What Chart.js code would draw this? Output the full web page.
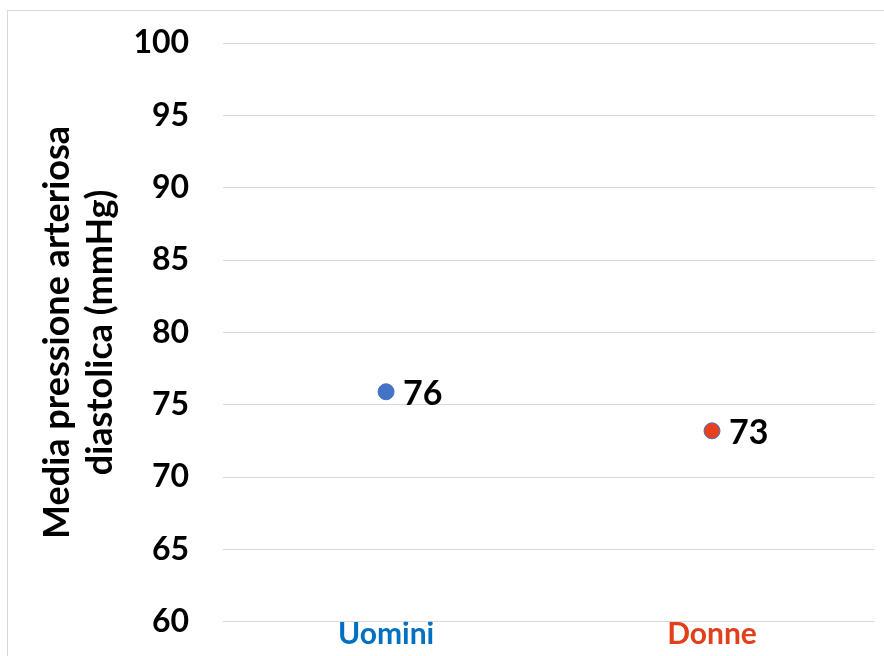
<!DOCTYPE html>
<html>
<head>
<meta charset="utf-8">
<script src="https://cdn.jsdelivr.net/npm/chart.js@4"></script>
<style>
  html, body { margin: 0; padding: 0; background: #fff; overflow: hidden; width: 884px; height: 656px; }
  #frame { position: absolute; left: 7px; top: 10px; width: 877px; height: 646px; border-left: 1px solid #d9d9d9; border-top: 1px solid #d9d9d9; box-sizing: border-box; }
  #wrap { position: absolute; left: 0; top: 0; width: 884px; height: 656px; }
</style>
</head>
<body>
<div id="frame"></div>
<div id="wrap"><canvas id="myChart"></canvas></div>
<script>
// data
var categories = ["Uomini", "Donne"];
var values = [75.9, 73.2];
var valueLabels = ["76", "73"];
var pointColors = ["#4472C4", "#E8401C"];
var labelColors = ["#0070C0", "#E0401A"];

var fontFamily = "Lato, 'Open Sans', sans-serif";

// draws the "76" / "73" next to each point
const pointLabels = {
  id: "pointLabels",
  afterDatasetsDraw(chart) {
    const ctx = chart.ctx;
    const meta = chart.getDatasetMeta(0);
    ctx.save();
    ctx.font = "bold 34px " + fontFamily;
    ctx.fillStyle = "#000";
    ctx.textAlign = "left";
    ctx.textBaseline = "middle";
    meta.data.forEach((pt, i) => {
      ctx.fillText(valueLabels[i], pt.x + 17, pt.y + 2);
    });
    ctx.restore();
  },
};

const ctx = document.getElementById("myChart");

new Chart(ctx, {
  type: "line",
  data: {
    labels: categories,
    datasets: [
      {
        data: values,
        showLine: false,
        pointRadius: 8,
        pointHoverRadius: 8,
        pointBackgroundColor: pointColors,
        pointBorderColor: "#4472C4",
        pointBorderWidth: 1,
      },
    ],
  },
  options: {
    responsive: true,
    maintainAspectRatio: false,
    animation: false,
    layout: { padding: { left: 36, top: 43, right: 0, bottom: 7 } },
    plugins: {
      legend: { display: false },
      tooltip: { enabled: false },
    },
    scales: {
      x: {
        offset: true,
        grid: { display: false, drawTicks: false },
        border: { display: false },
        ticks: {
          padding: -3,
          font: { family: fontFamily, size: 30, weight: "bold", lineHeight: 1 },
          color: labelColors,
        },
      },
      y: {
        min: 60,
        max: 100,
        grid: { color: "#d9d9d9", drawTicks: false, lineWidth: 1 },
        border: { display: false },
        ticks: {
          stepSize: 5,
          padding: 34,
          // tiny line height so the labels don't push the plot area in
          font: { family: fontFamily, size: 32, weight: "bold", lineHeight: 0.01 },
          color: "#000",
        },
        title: {
          display: true,
          text: ["Media pressione arteriosa", "diastolica (mmHg)"],
          font: { family: fontFamily, size: 36, weight: "bold", lineHeight: 1.2 },
          color: "#000",
          padding: { top: 0, bottom: -23 },
        },
      },
    },
  },
  plugins: [pointLabels],
});
</script>
</body>
</html>
